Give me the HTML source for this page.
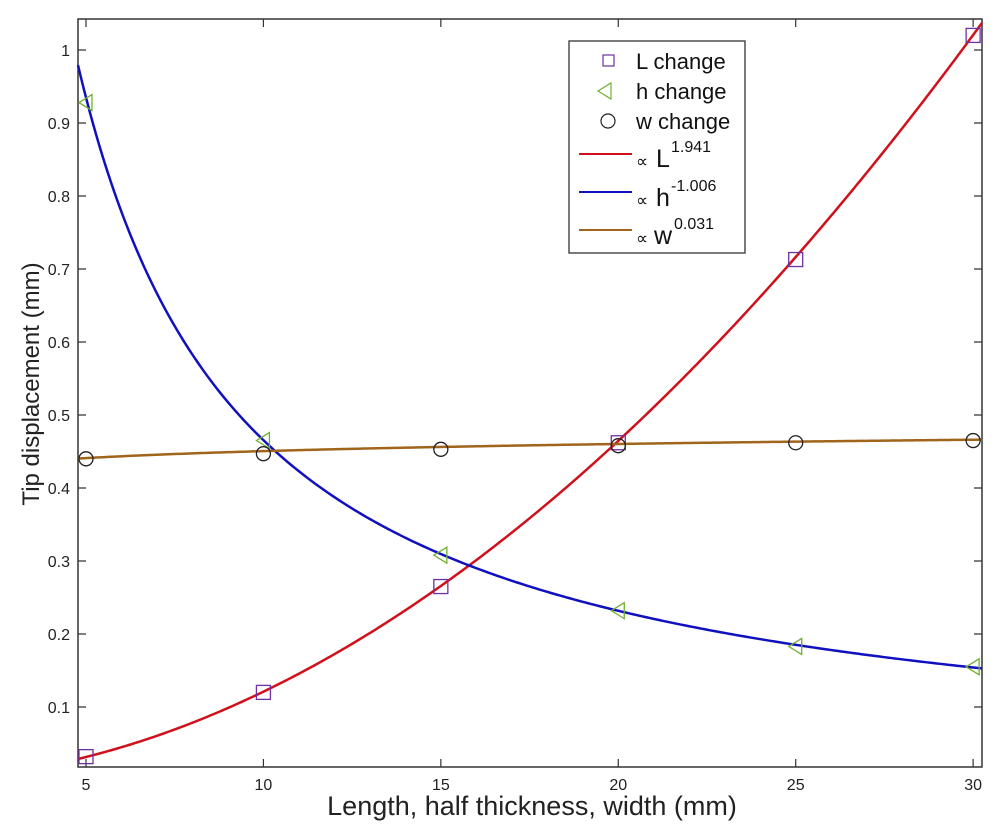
<!DOCTYPE html>
<html><head><meta charset="utf-8"><style>
body{margin:0;background:#fff;}
svg text{font-family:"Liberation Sans",Arial,sans-serif;}
</style></head><body>
<svg id="chart" width="1000" height="828" xmlns="http://www.w3.org/2000/svg">
<rect width="1000" height="828" fill="#fff"/>
<g id="plot"></g>
</svg>
<script>
const xCats = [5, 10, 15, 20, 25, 30];
const lValues = [0.032, 0.12, 0.265, 0.462, 0.713, 1.02];
const hValues = [0.928, 0.465, 0.308, 0.232, 0.183, 0.155];
const wValues = [0.44, 0.447, 0.453, 0.458, 0.462, 0.465];
const fitExponents = [1.941, -1.006, 0.031];
const fitCoefs = [0.001386, 4.72, 0.4195];
const xTicks = [5, 10, 15, 20, 25, 30];
const yTicks = [0.1, 0.2, 0.3, 0.4, 0.5, 0.6, 0.7, 0.8, 0.9, 1];

const NS = 'http://www.w3.org/2000/svg';
const X0 = 78, X1 = 982, Y0 = 19, Y1 = 767;
const xMin = 4.775, xMax = 30.25, yMin = 0.0178, yMax = 1.0425;
const sx = v => X0 + (v - xMin) / (xMax - xMin) * (X1 - X0);
const sy = v => Y1 - (v - yMin) / (yMax - yMin) * (Y1 - Y0);
const g = document.getElementById('plot');
function mk(tag, attrs, parent) {
  const e = document.createElementNS(NS, tag);
  for (const k in attrs) e.setAttribute(k, attrs[k]);
  (parent || g).appendChild(e);
  return e;
}
const box = mk('rect', {x: X0, y: Y0, width: X1 - X0, height: Y1 - Y0, fill: 'none', stroke: '#333', 'stroke-width': 1.5});


xTicks.forEach(t => {
  const x = sx(t);
  const tk = mk('path', {d: `M${x},${Y1}v-8M${x},${Y0}v8`, stroke: '#333', 'stroke-width': 1.2});
  
  
  const lb = mk('text', {x: x, y: Y1 + 23, 'text-anchor': 'middle', 'font-size': 16, fill: '#222'});
  lb.textContent = t;
  
  
});
yTicks.forEach(t => {
  const y = sy(t);
  const tk = mk('path', {d: `M${X0},${y}h8M${X1},${y}h-8`, stroke: '#333', 'stroke-width': 1.2});
  
  
  const lb = mk('text', {x: X0 - 8, y: y + 6, 'text-anchor': 'end', 'font-size': 16, fill: '#222'});
  lb.textContent = t;
  
  
});
const xt = mk('text', {x: 532, y: 815, 'text-anchor': 'middle', 'font-size': 27, fill: '#222'});
xt.textContent = 'Length, half thickness, width (mm)';


const yt = mk('text', {x: 0, y: 0, 'text-anchor': 'middle', 'font-size': 24, fill: '#222', transform: `translate(39,384) rotate(-90)`});
yt.textContent = 'Tip displacement (mm)';


const colors = ['#d0101a', '#1010c0', '#a0641a'];
const curveNames = ['fit-curve-l', 'fit-curve-h', 'fit-curve-w'];
fitExponents.forEach((p, i) => {
  let d = '';
  for (let k = 0; k <= 300; k++) {
    const xv = xMin + (xMax - xMin) * k / 300;
    let yv = fitCoefs[i] * Math.pow(xv, p);
    d += (k ? 'L' : 'M') + sx(xv).toFixed(2) + ',' + sy(yv).toFixed(2);
  }
  const c = mk('path', {d: d, fill: 'none', stroke: colors[i], 'stroke-width': 2.5});
  
  
});
xCats.forEach((xv, i) => {
  const x = sx(xv);
  const s = mk('rect', {x: x - 7, y: sy(lValues[i]) - 7, width: 14, height: 14, fill: 'none', stroke: '#7030a0', 'stroke-width': 1.3});
  
  
  const yh = sy(hValues[i]);
  const t = mk('path', {d: `M${x - 7},${yh}L${x + 6},${yh - 8}L${x + 6},${yh + 8}Z`, fill: 'none', stroke: '#70b030', 'stroke-width': 1.3});
  
  
  const c = mk('circle', {cx: x, cy: sy(wValues[i]), r: 7, fill: 'none', stroke: '#222', 'stroke-width': 1.3});
  
  
});
</script>
<svg style="position:absolute;left:0;top:0" width="1000" height="828">
<rect x="569" y="41" width="176" height="212" fill="#fff" stroke="#333" stroke-width="1.3"/>
<g font-family="Liberation Sans, Arial, sans-serif" fill="#111" font-size="22">
<g><rect x="603" y="55" width="11" height="11" fill="none" stroke="#7030a0" stroke-width="1.2"/><text x="636" y="69">L change</text></g>
<g><path d="M598,91L611,83L611,99Z" fill="none" stroke="#70b030" stroke-width="1.2"/><text x="636" y="99">h change</text></g>
<g><circle cx="608" cy="121" r="7" fill="none" stroke="#222" stroke-width="1.2"/><text x="636" y="129">w change</text></g>
<g><line x1="579" y1="154" x2="632" y2="154" stroke="#d0101a" stroke-width="2"/><text x="636" y="167" font-size="17">∝</text><text x="656" y="167" font-size="25">L</text><text x="671" y="152" font-size="16">1.941</text></g>
<g><line x1="579" y1="192" x2="632" y2="192" stroke="#1010c0" stroke-width="2"/><text x="636" y="206" font-size="17">∝</text><text x="656" y="206" font-size="25">h</text><text x="671" y="191" font-size="16">-1.006</text></g>
<g><line x1="579" y1="230" x2="632" y2="230" stroke="#a0641a" stroke-width="2"/><text x="636" y="244" font-size="17">∝</text><text x="654" y="244" font-size="25">w</text><text x="674" y="229" font-size="16">0.031</text></g>
</g>
</svg>
</body></html>
